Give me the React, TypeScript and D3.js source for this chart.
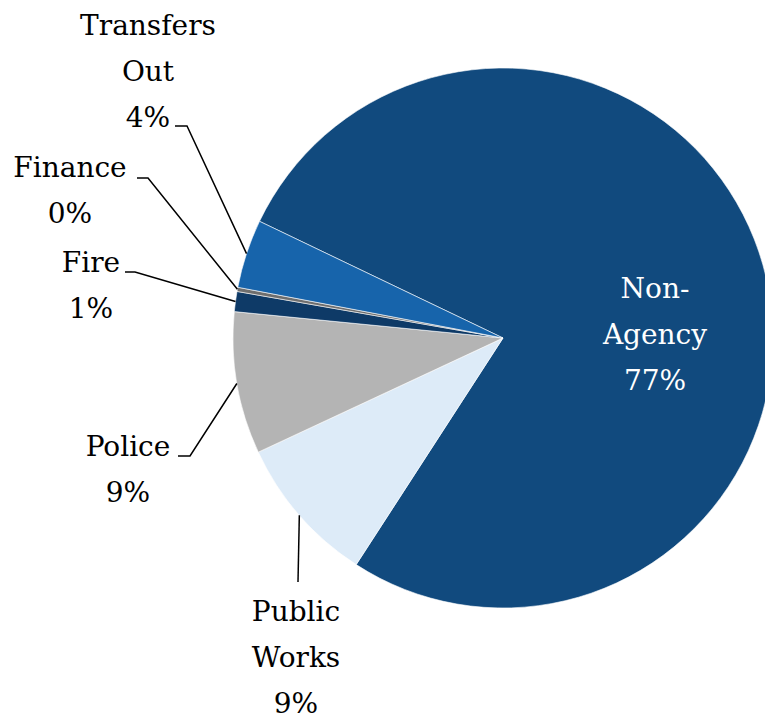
import React, { useEffect, useRef } from 'react';
import * as d3 from 'd3';

// clockwise from the Non-Agency start edge
const categories = ['Non-Agency', 'Public Works', 'Police', 'Fire', 'Finance', 'Transfers Out'];
const values = [77.0, 8.9, 8.5, 1.2, 0.25, 4.1];
const colors = ['#114a7e', '#ddebf8', '#b4b4b4', '#0e3a67', '#6e6e6e', '#1764ab'];

// label text lines (the percent line is appended)
const labelLines = [['Non-', 'Agency'], ['Public', 'Works'], ['Police'], ['Fire'], ['Finance'], ['Transfers', 'Out']];

const width = 765;
const height = 719;
const cx = 503;
const cy = 338;
const radius = 270;
const startDeg = -64.4;
const lineGap = 46;
const fontSize = 28;

// label layout: x = text centre, y = first baseline; elbow = where leader turns horizontal
const labelLayout: { x: number; y: number; elbow?: [number, number]; end?: [number, number] }[] = [
  { x: 655, y: 298 },
  { x: 296, y: 621, elbow: [298, 582], end: [298, 582] },
  { x: 128, y: 456, elbow: [190, 456], end: [178, 456] },
  { x: 91, y: 272, elbow: [135, 272], end: [125, 272] },
  { x: 70, y: 177, elbow: [148, 178], end: [137, 178] },
  { x: 148, y: 35, elbow: [187, 126], end: [175, 126] },
];

const App: React.FC = () => {
  const ref = useRef<SVGSVGElement>(null);

  useEffect(() => {
    const svg = d3.select(ref.current);
    svg.selectAll('*').remove();

    const total = d3.sum(values);
    const data = categories.map((c, i) => ({ name: c, value: values[i], idx: i }));

    const pie = d3
      .pie<{ name: string; value: number; idx: number }>()
      .sort(null)
      .value((d) => d.value)
      .startAngle((startDeg * Math.PI) / 180)
      .endAngle((startDeg * Math.PI) / 180 + 2 * Math.PI);

    const arc = d3
      .arc<d3.PieArcDatum<{ name: string; value: number; idx: number }>>()
      .innerRadius(0)
      .outerRadius(radius);

    const edgeArc = d3
      .arc<d3.PieArcDatum<{ name: string; value: number; idx: number }>>()
      .innerRadius(radius)
      .outerRadius(radius);

    const g = svg.append('g').attr('transform', `translate(${cx}, ${cy})`);
    const arcs = pie(data);

    g.selectAll('path.slice')
      .data(arcs)
      .enter()
      .append('path')
      .attr('class', 'slice')
      .attr('d', arc)
      .attr('fill', (d) => colors[d.data.idx])
      .attr('stroke', '#ffffff')
      .attr('stroke-width', 0.6);

    // leader lines
    arcs.forEach((d) => {
      const lay = labelLayout[d.data.idx];
      if (!lay.elbow || !lay.end) return;
      const [px, py] = edgeArc.centroid(d);
      const pts: [number, number][] = [
        [px + cx, py + cy],
        lay.elbow,
        lay.end,
      ];
      svg
        .append('path')
        .attr('d', d3.line()(pts))
        .attr('fill', 'none')
        .attr('stroke', '#000')
        .attr('stroke-width', 1.5);
    });

    // labels
    arcs.forEach((d) => {
      const lay = labelLayout[d.data.idx];
      const pct = Math.round((d.data.value / total) * 100) + '%';
      const lines = [...labelLines[d.data.idx], pct];
      const t = svg
        .append('text')
        .attr('text-anchor', 'middle')
        .style('font-family', "'DejaVu Serif', 'Liberation Serif', serif")
        .attr('font-size', fontSize)
        .attr('fill', d.data.idx === 0 ? '#ffffff' : '#000000');
      lines.forEach((ln, i) => {
        t.append('tspan').attr('x', lay.x).attr('y', lay.y + i * lineGap).text(ln);
      });
    });
  }, []);

  return (
    <svg
      ref={ref}
      width={width}
      height={height}
      style={{ position: 'absolute', left: 0, top: 0, background: '#fff' }}
    />
  );
};

export default App;
